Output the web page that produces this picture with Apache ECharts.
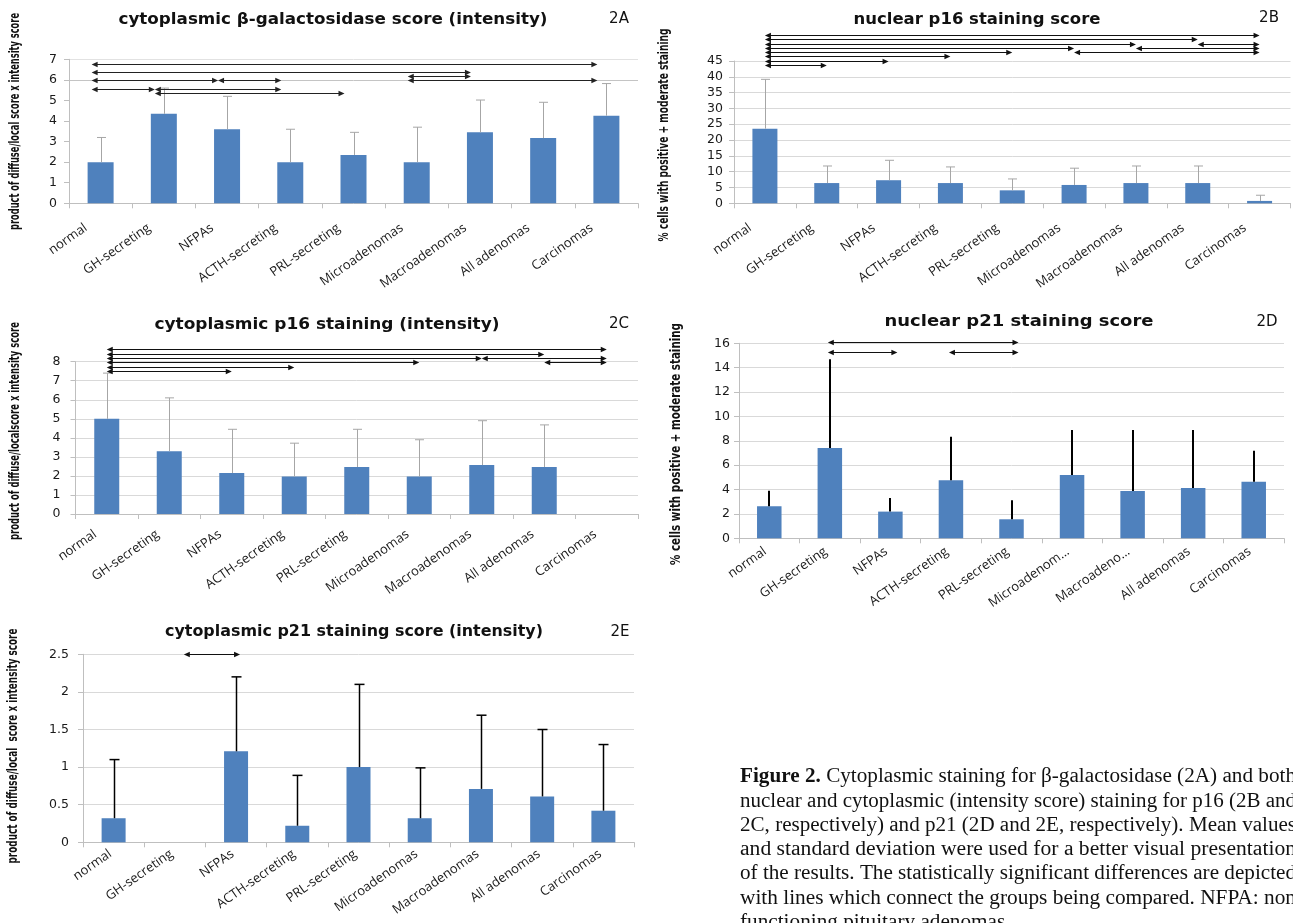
<!DOCTYPE html>
<html><head><meta charset="utf-8">
<script src="https://cdn.jsdelivr.net/npm/echarts@6/dist/echarts.min.js"></script>
<style>html,body{margin:0;padding:0;background:#fff}#c{width:1293px;height:923px}</style>
</head><body><div id="c"></div>
<script>
// ---------------- DATA ----------------
const categories = ['normal','GH-secreting','NFPAs','ACTH-secreting','PRL-secreting','Microadenomas','Macroadenomas','All adenomas','Carcinomas'];
const categories2D = ['normal','GH-secreting','NFPAs','ACTH-secreting','PRL-secreting','Microadenom...','Macroadeno...','All adenomas','Carcinomas'];

// 2A cytoplasmic beta-galactosidase
const meanA = [2.0, 4.35, 3.6, 2.0, 2.35, 2.0, 3.45, 3.17, 4.26];
const sdA   = [1.2, 1.25, 1.6, 1.6, 1.1, 1.7, 1.57, 1.74, 1.56];
const ticksA = [0,1,2,3,4,5,6,7];
const arrowsA = [[0,8,6.77],[0,6,6.38],[5,6,6.17],[0,2,5.98],[2,3,5.98],[5,8,5.98],[0,1,5.57],[1,3,5.57],[1,4,5.36]];

// 2B nuclear p16
const meanB = [23.6, 6.4, 7.3, 6.4, 4.1, 5.8, 6.4, 6.4, 0.75];
const sdB   = [15.6, 5.4, 6.3, 5.1, 3.6, 5.3, 5.4, 5.4, 1.8];
const ticksB = [0,5,10,15,20,25,30,35,40,45];
const arrowsB = [[0,8,53.1],[0,7,51.8],[0,6,50.5],[7,8,50.5],[0,5,49.1],[6,8,49.1],[0,4,47.8],[5,8,47.8],[0,3,46.5],[0,2,45.1],[0,1,43.7]];

// 2C cytoplasmic p16
const meanC = [5.0, 3.3, 2.15, 1.97, 2.47, 1.97, 2.57, 2.47, null];
const sdC   = [2.4, 2.8, 2.3, 1.75, 1.98, 1.93, 2.33, 2.21, null];
const ticksC = [0,1,2,3,4,5,6,7,8];
const arrowsC = [[0,8,8.65],[0,7,8.42],[0,6,8.2],[6,8,8.2],[0,5,7.97],[7,8,7.97],[0,3,7.74],[0,2,7.53]];

// 2D nuclear p21
const meanD = [2.63, 7.41, 2.19, 4.76, 1.56, 5.2, 3.88, 4.13, 4.65];
const sdD   = [1.28, 7.28, 1.12, 3.58, 1.56, 3.69, 5.01, 4.76, 2.54];
const ticksD = [0,2,4,6,8,10,12,14,16];
const arrowsD = [[1,4,16.08],[1,2,15.29],[3,4,15.29]];

// 2E cytoplasmic p21
const meanE = [0.32, 0, 1.21, 0.22, 1.0, 0.32, 0.71, 0.61, 0.42];
const sdE   = [0.78, 0, 0.99, 0.67, 1.1, 0.67, 0.98, 0.89, 0.88];
const ticksE = [0,0.5,1,1.5,2,2.5];
const arrowsE = [[1,2,2.5]];

const titles = ['cytoplasmic β-galactosidase score (intensity)','nuclear p16 staining score','cytoplasmic p16 staining (intensity)','nuclear p21 staining score','cytoplasmic p21 staining score (intensity)'];
const tags = ['2A','2B','2C','2D','2E'];
const yNames = ['product of diffuse/local score x intensity score','% cells with positive + moderate staining','product of diffuse/localscore x intensity score','% cells with positive + moderate staining','product of diffuse/local  score x intensity score'];

const captionLines = [
 'Cytoplasmic staining for β-galactosidase (2A) and both',
 'nuclear and cytoplasmic (intensity score) staining for p16 (2B and',
 '2C, respectively) and p21 (2D and 2E, respectively). Mean values',
 'and standard deviation were used for a better visual presentation',
 'of the results. The statistically significant differences are depicted',
 'with lines which connect the groups being compared. NFPA: non',
 'functioning pituitary adenomas.'
];
const captionLead = 'Figure 2.';

// ---------------- LAYOUT / STYLE ----------------
const SANS = '"Open Sans", "DejaVu Sans", sans-serif';
const WIDE = '"DejaVu Sans", Verdana, sans-serif';
const NARROW = '"Liberation Sans Narrow", "DejaVu Sans Condensed", "Liberation Sans", sans-serif';
const SERIF = '"Liberation Serif", "DejaVu Serif", serif';
const BAR = '#4f81bd';
const GRAY_ERR = {color:'#a6a6a6', width:1, cap:9};
const charts = [
 {cats:categories, mean:meanA, sd:sdA, ticks:ticksA, arrows:arrowsA,
  grid:[69,59.3,569,144], title:[333,20,429], tag:[619,19], yName:[15,121.5,217], yMargin:12, xLab:[13,18], barWidth:26, err:GRAY_ERR, off:[-9,-9], arrowColor:'#222',
  split:['rgba(0,0,0,0)','rgba(0,0,0,0)','rgba(0,0,0,0)','rgba(0,0,0,0)','rgba(0,0,0,0)','rgba(0,0,0,0)','#c4c4c4','#e2e2e2']},
 {cats:categories, mean:meanB, sd:sdB, ticks:ticksB, arrows:arrowsB,
  grid:[734,61,556.5,142.3], title:[977,20,247], tag:[1269,18], yName:[664,135,213], yMargin:11, xLab:[13,18], barWidth:25, err:GRAY_ERR, off:[0,0], arrowColor:'#111', split:'#d9d9d9'},
 {cats:categories, mean:meanC, sd:sdC, ticks:ticksC, arrows:arrowsC,
  grid:[75.5,361.7,562.5,152.3], title:[327,325,345], tag:[619,324], yName:[15,431,218], yMargin:15, xLab:[11,14], barWidth:25, err:GRAY_ERR, off:[0,0], arrowColor:'#111', split:'#d9d9d9'},
 {cats:categories2D, mean:meanD, sd:sdD, ticks:ticksD, arrows:arrowsD,
  grid:[739,343.3,545,195], title:[1019,322,269], tag:[1267,322], yName:[676,444,242], yMargin:9, xLab:[9,5], barWidth:24.5, err:{color:'#000',width:2,cap:0}, off:[-2,7], arrowColor:'#111', split:'#d9d9d9'},
 {cats:categories, mean:meanE, sd:sdE, ticks:ticksE, arrows:arrowsE,
  grid:[83,654.3,551,188], title:[354,632,378], tag:[620,632], yName:[13,746,235], yMargin:14, xLab:[8,4], barWidth:24, err:{color:'#000',width:1.5,cap:10}, off:[9,4], arrowColor:'#111', split:'#d9d9d9'}
];

const mctx = document.createElement('canvas').getContext('2d');
function textWidth(t, font){ mctx.font = font; return mctx.measureText(t).width; }

function errRender(st){
  return function(params, api){
    const x = api.value(0), m = api.value(1), s = api.value(2);
    if (isNaN(m) || isNaN(s) || !s) return null;
    const p0 = api.coord([x, m]), p1 = api.coord([x, m + s]);
    const cx = Math.round(p0[0]) + (st.width % 2 ? 0.5 : 0);
    const ch = [{type:'line', shape:{x1:cx, y1:p0[1], x2:cx, y2:p1[1]}, style:{stroke:st.color, lineWidth:st.width}}];
    if (st.cap) ch.push({type:'line', shape:{x1:cx - st.cap/2, y1:p1[1], x2:cx + st.cap/2, y2:p1[1]}, style:{stroke:st.color, lineWidth:st.width}});
    return {type:'group', children:ch};
  };
}
function arrowRender(off, color){
  return function(params, api){
    const a = api.coord([api.value(0), api.value(2)]);
    const b = api.coord([api.value(1), api.value(2)]);
    const x1 = a[0] + off[0], x2 = b[0] + off[1], y = Math.round(a[1]) + 0.5;
    const L = 6, H = 2.8;
    return {type:'group', children:[
      {type:'line', shape:{x1:x1 + 2, y1:y, x2:x2 - 2, y2:y}, style:{stroke:color, lineWidth:1}},
      {type:'polygon', shape:{points:[[x1,y],[x1+L,y-H],[x1+L,y+H]]}, style:{fill:color}},
      {type:'polygon', shape:{points:[[x2,y],[x2-L,y-H],[x2-L,y+H]]}, style:{fill:color}}
    ]};
  };
}

const TITLE_SIZE = 15, YNAME_SIZE = 13.5;
const option = {animation:false, grid:[], xAxis:[], yAxis:[], series:[], graphic:{elements:[]}};
charts.forEach((c, i) => {
  const g = c.grid;
  option.grid.push({left:g[0], top:g[1], width:g[2], height:g[3], containLabel:false, outerBoundsMode:'none'});
  option.xAxis.push({type:'category', gridIndex:i, data:c.cats,
    axisLine:{show:true, lineStyle:{color:'#bfbfbf', width:1}},
    axisTick:{show:true, length:5, lineStyle:{color:'#bfbfbf'}},
    splitLine:{show:false},
    axisLabel:{rotate:35, interval:0, margin:c.xLab[0], padding:[0,c.xLab[1],0,0], fontFamily:SANS, fontSize:13, color:'#1a1a1a'}});
  option.yAxis.push({type:'value', gridIndex:i, min:c.ticks[0], max:c.ticks[c.ticks.length-1], interval:c.ticks[1]-c.ticks[0],
    axisLine:{show:true, lineStyle:{color:'#bfbfbf', width:1}},
    axisTick:{show:true, length:5, lineStyle:{color:'#bfbfbf'}},
    splitLine:{show:true, lineStyle:{color:c.split, width:1}},
    axisLabel:{fontFamily:WIDE, fontSize:12.5, color:'#1a1a1a', margin:c.yMargin}});
  option.series.push({type:'bar', xAxisIndex:i, yAxisIndex:i, data:c.mean.map(v => v === null ? '-' : v), barWidth:c.barWidth,
    itemStyle:{color:BAR}, silent:true, z:2});
  option.series.push({type:'custom', xAxisIndex:i, yAxisIndex:i, encode:{x:0, y:1},
    data:c.mean.map((m, k) => [k, m === null ? NaN : m, c.sd[k] === null ? NaN : c.sd[k]]),
    renderItem:errRender(c.err), clip:false, silent:true, z:3});
  option.series.push({type:'custom', xAxisIndex:i, yAxisIndex:i, encode:{x:[0,1], y:2},
    data:c.arrows, renderItem:arrowRender(c.off, c.arrowColor), clip:false, silent:true, z:4});
  const tw = textWidth(titles[i], 'bold ' + TITLE_SIZE + 'px ' + WIDE);
  option.graphic.elements.push({type:'text', x:c.title[0], y:c.title[1], scaleX:c.title[2] / tw, silent:true,
    style:{text:titles[i], align:'center', verticalAlign:'middle', fontFamily:WIDE, fontWeight:'bold', fontSize:TITLE_SIZE, fill:'#111'}});
  option.graphic.elements.push({type:'text', x:c.tag[0], y:c.tag[1], silent:true,
    style:{text:tags[i], align:'center', verticalAlign:'middle', fontFamily:WIDE, fontSize:15, fill:'#111'}});
  const yw = textWidth(yNames[i], 'bold ' + YNAME_SIZE + 'px ' + NARROW);
  option.graphic.elements.push({type:'text', x:c.yName[0], y:c.yName[1], rotation:Math.PI/2, scaleX:c.yName[2] / yw, silent:true,
    style:{text:yNames[i], align:'center', verticalAlign:'middle', fontFamily:NARROW, fontWeight:'bold', fontSize:YNAME_SIZE, fill:'#111'}});
});

// caption, justified by horizontal scaling of each line
const capLeft = 740, capRight = 1296, capTop = 777, capStep = 24.25, capSize = 20;
let scales = [];
captionLines.forEach((t, k) => {
  let w = textWidth(t, capSize + 'px ' + SERIF);
  if (k === 0) w += textWidth(captionLead + ' ', 'bold ' + capSize + 'px ' + SERIF);
  scales.push((capRight - capLeft) / w);
});
const avgScale = scales.slice(0, 6).reduce((a, b) => a + b, 0) / 6;
captionLines.forEach((t, k) => {
  const sx = k === captionLines.length - 1 ? avgScale : scales[k];
  const el = {type:'text', x:capLeft, y:capTop + k * capStep, scaleX:sx, silent:true,
    style:{text:t, align:'left', verticalAlign:'middle', fontFamily:SERIF, fontSize:capSize, fill:'#111'}};
  if (k === 0) {
    el.style.text = '{b|' + captionLead + '} ' + t;
    el.style.rich = {b:{fontFamily:SERIF, fontSize:capSize, fontWeight:'bold', fill:'#111'}};
  }
  option.graphic.elements.push(el);
});

const chart = echarts.init(document.getElementById('c'), null, {renderer:'canvas'});
chart.setOption(option);
</script></body></html>
